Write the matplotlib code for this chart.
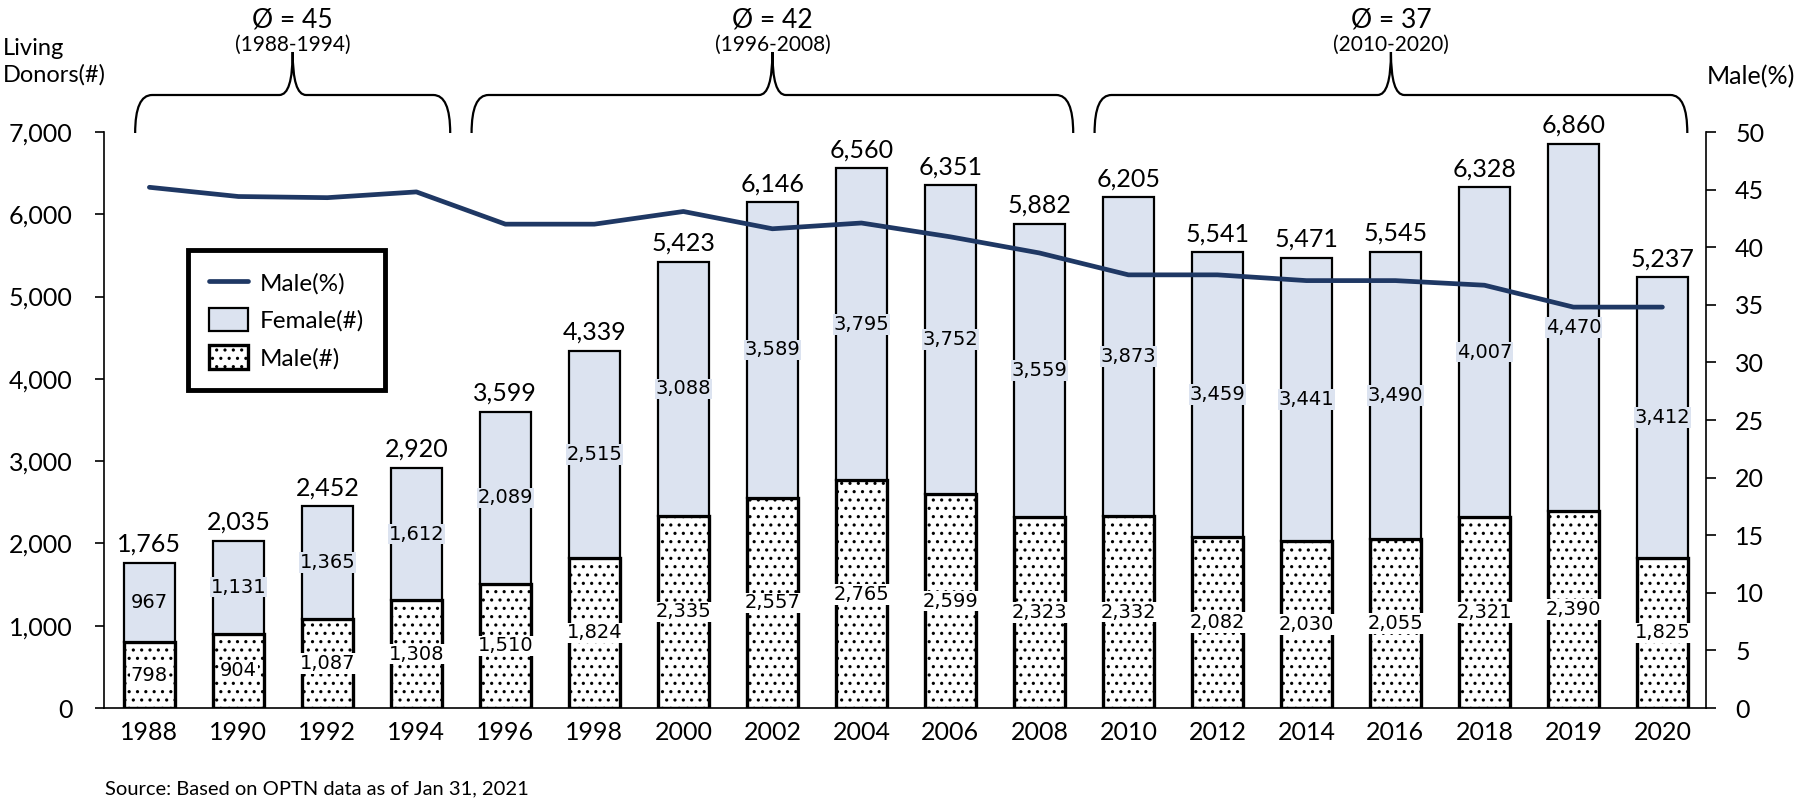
import numpy as np
import matplotlib
matplotlib.use("Agg")
import matplotlib.pyplot as plt
from matplotlib.path import Path
from matplotlib.patches import PathPatch, Patch
from matplotlib.lines import Line2D
from matplotlib import transforms
from matplotlib.ticker import StrMethodFormatter, MultipleLocator

plt.rcParams["font.family"] = ["Lato", "DejaVu Sans"]
plt.rcParams["hatch.linewidth"] = 1.1

# -----------------------------
# data
# -----------------------------
years = ["1988", "1990", "1992", "1994", "1996", "1998", "2000", "2002", "2004",
         "2006", "2008", "2010", "2012", "2014", "2016", "2018", "2019", "2020"]
male_n = [798, 904, 1087, 1308, 1510, 1824, 2335, 2557, 2765,
          2599, 2323, 2332, 2082, 2030, 2055, 2321, 2390, 1825]
female_n = [967, 1131, 1365, 1612, 2089, 2515, 3088, 3589, 3795,
            3752, 3559, 3873, 3459, 3441, 3490, 4007, 4470, 3412]
male_pct = [45.2, 44.4, 44.3, 44.8, 42.0, 42.0, 43.1, 41.6, 42.1,
            40.9, 39.5, 37.6, 37.6, 37.1, 37.1, 36.7, 34.8, 34.8]

# period averages shown with braces: (label, sub label, first idx, last idx)
periods = [("Ø = 45", "(1988-1994)", 0, 3),
           ("Ø = 42", "(1996-2008)", 4, 10),
           ("Ø = 37", "(2010-2020)", 11, 17)]

female_color = "#DCE3F0"
line_color = "#1F3864"

x = np.arange(len(years))
totals = [m + f for m, f in zip(male_n, female_n)]

fig = plt.figure(figsize=(18, 8.05), dpi=100)
ax = fig.add_axes([104/1800, 1-708/805, (1706-104)/1800, (708-132)/805])

# -----------------------------
# stacked bars
# -----------------------------
bw = 0.575
ax.bar(x, male_n, bw, color="white", edgecolor="black", linewidth=2.4,
       hatch="..", zorder=2)
ax.bar(x, female_n, bw, bottom=male_n, color=female_color, edgecolor="black",
       linewidth=1.6, zorder=2)

for i in range(len(years)):
    ax.text(x[i], male_n[i] / 2, f"{male_n[i]:,}", ha="center", va="center",
            fontsize=14, family="DejaVu Sans", zorder=4,
            bbox=dict(facecolor="white", edgecolor="none", pad=0.5))
    ax.text(x[i], male_n[i] + female_n[i] / 2, f"{female_n[i]:,}", ha="center",
            va="center", fontsize=14, family="DejaVu Sans", zorder=4,
            bbox=dict(facecolor=female_color, edgecolor="none", pad=0.5))
    ax.annotate(f"{totals[i]:,}", (x[i], totals[i]), xytext=(0, 5),
                textcoords="offset points", ha="center", va="bottom",
                fontsize=18, zorder=4)

ax.set_xlim(-0.51, 17.49)
ax.set_ylim(0, 7000)
ax.set_xticks(x)
ax.set_xticklabels(years)
ax.yaxis.set_major_locator(MultipleLocator(1000))
ax.yaxis.set_major_formatter(StrMethodFormatter("{x:,.0f}"))
ax.tick_params(axis="x", length=0, pad=9, labelsize=18)
ax.tick_params(axis="y", direction="out", length=6.5, width=1.2, pad=16,
               labelsize=18)
for s in ["top", "right"]:
    ax.spines[s].set_visible(False)
for s in ["left", "bottom"]:
    ax.spines[s].set_linewidth(1.2)

# -----------------------------
# Male(%) line on the right axis
# -----------------------------
ax2 = ax.twinx()
ax2.plot(x, male_pct, color=line_color, linewidth=3.4, solid_capstyle="round",
         zorder=5)
ax2.set_ylim(0, 50)
ax2.yaxis.set_major_locator(MultipleLocator(5))
ax2.tick_params(axis="y", direction="out", length=7, width=1.2, pad=14,
                labelsize=18)
for s in ["top", "left", "bottom"]:
    ax2.spines[s].set_visible(False)
ax2.spines["right"].set_linewidth(1.2)

# -----------------------------
# braces with period averages
# -----------------------------
trans = transforms.blended_transform_factory(ax.transData, fig.transFigure)
y_bot, y_hor, y_tip = 1-133/805, 1-95/805, 1-52/805
r, t = 0.19, 0.15
for lab, sub, i0, i1 in periods:
    x0 = max(i0 - 0.38, -0.16)
    x1 = min(i1 + 0.38, 17.28)
    xm = (x0 + x1) / 2
    verts = [(x0, y_bot), (x0, y_hor), (x0 + r, y_hor),
             (xm - t, y_hor),
             (xm, y_hor), (xm, y_tip),
             (xm, y_hor), (xm + t, y_hor),
             (x1 - r, y_hor),
             (x1, y_hor), (x1, y_bot)]
    codes = [Path.MOVETO, Path.CURVE3, Path.CURVE3,
             Path.LINETO,
             Path.CURVE3, Path.CURVE3,
             Path.CURVE3, Path.CURVE3,
             Path.LINETO,
             Path.CURVE3, Path.CURVE3]
    ax.add_patch(PathPatch(Path(verts, codes), transform=trans, fill=False,
                           edgecolor="black", linewidth=1.6, clip_on=False))
    ax.text(xm, 1-20/805, lab, transform=trans, ha="center", va="center",
            fontsize=19)
    ax.text(xm, 1-45/805, sub, transform=trans, ha="center", va="center",
            fontsize=15)

# axis titles
fig.text(3/1800, 1-62/805, "Living\nDonors(#)", ha="left", va="center",
         fontsize=17, linespacing=1.3)
fig.text(1707/1800, 1-77/805, "Male(%)", ha="left", va="center", fontsize=18)

# legend
handles = [Line2D([0], [0], color=line_color, linewidth=3.4,
                  solid_capstyle="round"),
           Patch(facecolor=female_color, edgecolor="black", linewidth=1.6),
           Patch(facecolor="white", edgecolor="black", linewidth=2.4, hatch="..")]
leg = fig.legend(handles, ["Male(%)", "Female(#)", "Male(#)"],
                 loc="upper left", bbox_to_anchor=(188/1800, 1-250/805),
                 fontsize=17.5, frameon=True, fancybox=False, framealpha=1,
                 edgecolor="black", handlelength=1.6, handleheight=1.1,
                 labelspacing=0.55, borderpad=0.85, handletextpad=0.5,
                 borderaxespad=0)
leg.get_frame().set_linewidth(3.5)

fig.text(105/1800, 1-789/805, "Source: Based on OPTN data as of Jan 31, 2021",
         ha="left", va="center", fontsize=14.5)

fig.savefig("out.png", dpi=100)
